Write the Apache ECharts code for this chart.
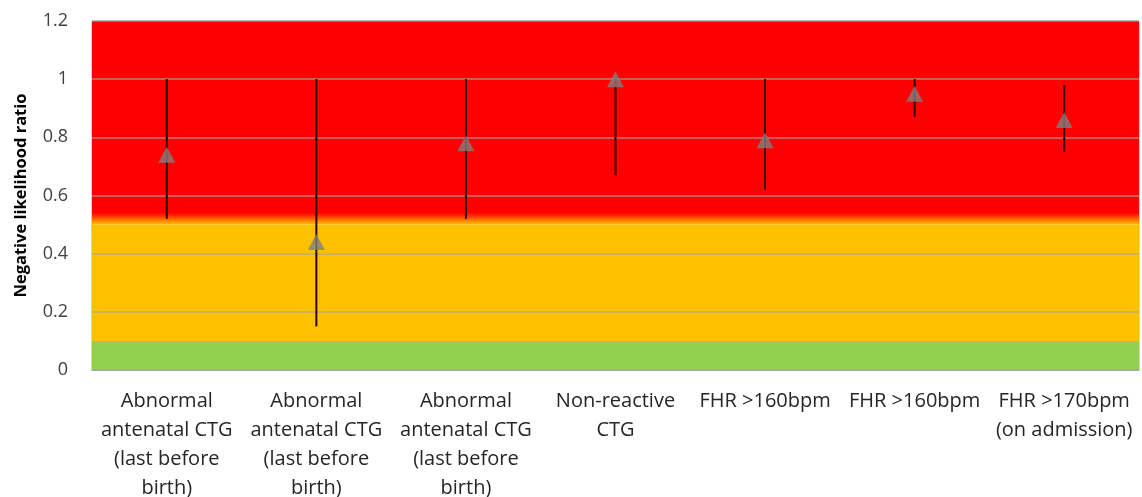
<!DOCTYPE html>
<html><head><meta charset="utf-8">
<script src="https://cdn.jsdelivr.net/npm/echarts@6/dist/echarts.min.js"></script>
<style>html,body{margin:0;padding:0;background:#fff;overflow:hidden}#c{width:1142px;height:497px}</style>
</head><body><div id="c"></div>
<script>
const categories = [
  "Abnormal\nantenatal CTG\n(last before\nbirth)",
  "Abnormal\nantenatal CTG\n(last before\nbirth)",
  "Abnormal\nantenatal CTG\n(last before\nbirth)",
  "Non-reactive\nCTG",
  "FHR >160bpm",
  "FHR >160bpm",
  "FHR >170bpm\n(on admission)"
];
const estimate = [0.74, 0.44, 0.78, 1.00, 0.79, 0.95, 0.86];
const lower    = [0.52, 0.15, 0.52, 0.67, 0.62, 0.87, 0.75];
const upper    = [1.00, 1.00, 1.00, 1.00, 1.00, 1.00, 0.98];
const yTicks = [0, 0.2, 0.4, 0.6, 0.8, 1, 1.2];
const bands = { green: [0, 0.1], orange: [0.1, 0.5], blend: [0.5, 0.54], red: [0.54, 1.2] };

const chart = echarts.init(document.getElementById('c'), null, {renderer: 'canvas'});
const font = '"Open Sans", sans-serif';
chart.setOption({
  animation: false,
  grid: { left: 92, width: 1047, top: 21, height: 349, outerBoundsMode: 'none', containLabel: false,
    show: true, borderColor: '#a6a6a6', borderWidth: 1, backgroundColor: 'transparent' },
  xAxis: {
    type: 'category', data: categories, boundaryGap: true, z: 5,
    axisLine: { show: true, lineStyle: { color: '#a6a6a6', width: 1 } },
    axisTick: { show: false },
    axisLabel: { interval: 0, margin: 17, fontFamily: font, fontSize: 20, lineHeight: 29, color: '#262626', align: 'center' }
  },
  yAxis: {
    type: 'value', min: yTicks[0], max: yTicks[yTicks.length - 1], interval: 0.2, z: 5,
    name: 'Negative likelihood ratio', nameLocation: 'middle', nameRotate: 90, nameGap: 62,
    nameTextStyle: { fontFamily: font, fontSize: 16.5, fontWeight: 'bold', color: '#000' },
    axisLine: { show: false }, axisTick: { show: false },
    axisLabel: { margin: 24, fontFamily: font, fontSize: 18, color: '#404040',
      formatter: v => String(+v.toFixed(1)) },
    splitLine: { show: true, lineStyle: { color: 'rgba(165,165,165,0.75)', width: 1.5 } }
  },
  series: [
    {
      type: 'line', data: [], z: 1, silent: true,
      markArea: {
        silent: true,
        data: [
          [{ yAxis: bands.red[0], itemStyle: { color: '#ff0000' } }, { yAxis: bands.red[1] }],
          [{ yAxis: bands.blend[0], itemStyle: { color: new echarts.graphic.LinearGradient(0, 0, 0, 1, [
              { offset: 0, color: '#ff0000' }, { offset: 0.5, color: '#ff6000' }, { offset: 1, color: '#ffc000' }]) } }, { yAxis: bands.blend[1] }],
          [{ yAxis: bands.orange[0], itemStyle: { color: '#ffc000' } }, { yAxis: bands.orange[1] }],
          [{ yAxis: bands.green[0], itemStyle: { color: '#92d050' } }, { yAxis: bands.green[1] }]
        ]
      }
    },
    {
      type: 'custom', z: 8,
      data: categories.map((c, i) => [i, lower[i], upper[i]]),
      renderItem: (params, api) => {
        const a = api.coord([api.value(0), api.value(1)]);
        const b = api.coord([api.value(0), api.value(2)]);
        return { type: 'line', shape: { x1: a[0], y1: a[1], x2: b[0], y2: b[1] },
          style: { stroke: '#2a0000', lineWidth: 2 } };
      }
    },
    {
      type: 'scatter', z: 9, symbol: 'triangle', symbolSize: [17, 16],
      itemStyle: { color: '#7f7f7f' },
      data: estimate.map((v, i) => [i, v])
    }
  ]
});
</script></body></html>
